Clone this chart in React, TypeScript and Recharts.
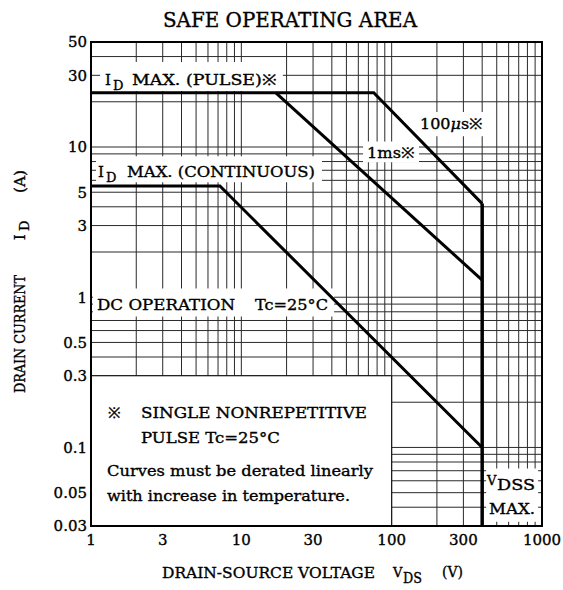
import React from "react";
import { ComposedChart, Line, CartesianGrid, XAxis, YAxis, ReferenceArea } from "recharts";

// log grid positions and labelled ticks
const xGrid = [1, 2, 3, 4, 5, 6, 7, 8, 9, 10, 20, 30, 40, 50, 60, 70, 80, 90, 100, 200, 300, 400, 500, 600, 700, 800, 900, 1000];
const xLabels = [1, 3, 10, 30, 100, 300, 1000];
const yGrid = [0.03, 0.04, 0.05, 0.06, 0.07, 0.08, 0.09, 0.1, 0.2, 0.3, 0.4, 0.5, 0.6, 0.7, 0.8, 0.9, 1, 2, 3, 4, 5, 6, 7, 8, 9, 10, 20, 30, 40, 50];
const yLabels = [0.03, 0.05, 0.1, 0.3, 0.5, 1, 3, 5, 10, 30, 50];

// curves: drain-source voltage (V) / drain current (A)
const pulseV = [1, 76, 400];
const pulseI = [23, 23, 4.2];
const ms1V = [16.9, 400];
const ms1I = [23, 1.3];
const dcV = [1, 7.2, 400];
const dcI = [5.5, 5.5, 0.1];
const vdssV = [400, 400];
const vdssI = [4.2, 0.03];

const toRows = (v: number[], i: number[]) => v.map((x, k) => ({ v: x, i: i[k] }));

const FONT = "'DejaVu Serif', serif";

const tickStyle = { fill: "#000", stroke: "#000", strokeWidth: 0.35, fontSize: 15, fontFamily: FONT };

export default function App() {
  return (
    <div style={{ position: "absolute", left: 0, top: 0, width: 563, height: 590, background: "#fff" }}>
      <ComposedChart width={563} height={590} margin={{ top: 42, right: 21, bottom: 34, left: 31 }}>
        <CartesianGrid stroke="#2a2a2a" strokeWidth={1} />
        <XAxis
          dataKey="v"
          type="number"
          scale="log"
          domain={[1, 1000]}
          allowDataOverflow
          ticks={xGrid}
          interval={0}
          height={30}
          tickSize={0}
          tickMargin={8}
          axisLine={false}
          tickLine={false}
          tick={tickStyle}
          tickFormatter={(t: number) => (xLabels.includes(t) ? String(t) : "")}
        />
        <YAxis
          type="number"
          scale="log"
          domain={[0.03, 50]}
          allowDataOverflow
          ticks={yGrid}
          interval={0}
          width={60}
          tickSize={0}
          tickMargin={4}
          axisLine={false}
          tickLine={false}
          tick={tickStyle}
          tickFormatter={(t: number) => (yLabels.includes(t) ? String(t) : "")}
        />
        {/* white label backgrounds */}
        <ReferenceArea x1={1.15} x2={18.9} y1={23.6} y2={36.8} fill="#fff" fillOpacity={1} stroke="none" />
        <ReferenceArea x1={1.08} x2={34.4} y1={5.83} y2={8.69} fill="#fff" fillOpacity={1} stroke="none" />
        <ReferenceArea x1={64.5} x2={152} y1={7.92} y2={10.9} fill="#fff" fillOpacity={1} stroke="none" />
        <ReferenceArea x1={143} x2={438} y1={11.8} y2={17.1} fill="#fff" fillOpacity={1} stroke="none" />
        <ReferenceArea x1={1.03} x2={41.4} y1={0.745} y2={1.145} fill="#fff" fillOpacity={1} stroke="none" />
        <ReferenceArea x1={1} x2={100} y1={0.03} y2={0.3} fill="#fff" fillOpacity={1} stroke="#000" strokeWidth={1} />
        <ReferenceArea x1={425} x2={942} y1={0.032} y2={0.0723} fill="#fff" fillOpacity={1} stroke="none" />
        {/* plot frame */}
        <ReferenceArea x1={1} x2={1000} y1={0.03} y2={50} fill="none" fillOpacity={0} stroke="#000" strokeWidth={2} />
        <Line data={toRows(pulseV, pulseI)} dataKey="i" type="linear" stroke="#000" strokeWidth={3} dot={false} isAnimationActive={false} />
        <Line data={toRows(ms1V, ms1I)} dataKey="i" type="linear" stroke="#000" strokeWidth={3} dot={false} isAnimationActive={false} />
        <Line data={toRows(dcV, dcI)} dataKey="i" type="linear" stroke="#000" strokeWidth={3} dot={false} isAnimationActive={false} />
        <Line data={toRows(vdssV, vdssI)} dataKey="i" type="linear" stroke="#000" strokeWidth={3.5} dot={false} isAnimationActive={false} />
      </ComposedChart>

      <svg width={563} height={590} style={{ position: "absolute", left: 0, top: 0, pointerEvents: "none" }} fontFamily={FONT} fill="#000" stroke="#000" strokeWidth={0.35}>
        <text x={290} y={27} textAnchor="middle" fontSize={21} textLength={254} lengthAdjust="spacingAndGlyphs">SAFE OPERATING AREA</text>

        <text x={105} y={85} fontSize={15}>I</text>
        <text x={113} y={90} fontSize={13}>D</text>
        <text x={132} y={85} fontSize={15} textLength={145} lengthAdjust="spacingAndGlyphs">MAX. (PULSE)※</text>

        <text x={98} y={177} fontSize={15}>I</text>
        <text x={106} y={182} fontSize={13}>D</text>
        <text x={127} y={177} fontSize={15} textLength={188} lengthAdjust="spacingAndGlyphs">MAX. (CONTINUOUS)</text>

        <text x={367} y={158} fontSize={15} textLength={48} lengthAdjust="spacingAndGlyphs">1ms※</text>
        <text x={420} y={129} fontSize={15} textLength={63} lengthAdjust="spacingAndGlyphs">
          100<tspan fontStyle="italic">μ</tspan>s※
        </text>

        <text x={97} y={310} fontSize={15} textLength={138} lengthAdjust="spacingAndGlyphs">DC OPERATION</text>
        <text x={255} y={310} fontSize={15} textLength={73} lengthAdjust="spacingAndGlyphs">Tc=25°C</text>

        <text x={108} y={418} fontSize={15}>※</text>
        <text x={141} y={418} fontSize={15} textLength={226} lengthAdjust="spacingAndGlyphs">SINGLE NONREPETITIVE</text>
        <text x={141} y={443} fontSize={15} textLength={139} lengthAdjust="spacingAndGlyphs">PULSE Tc=25°C</text>
        <text x={107} y={476} fontSize={15} textLength={266} lengthAdjust="spacingAndGlyphs">Curves must be derated linearly</text>
        <text x={107} y={501} fontSize={15} textLength={243} lengthAdjust="spacingAndGlyphs">with increase in temperature.</text>

        <text x={487} y={485} fontSize={13}>V</text>
        <text x={497} y={490} fontSize={15} textLength={38} lengthAdjust="spacingAndGlyphs">DSS</text>
        <text x={489} y={514} fontSize={15} textLength={46} lengthAdjust="spacingAndGlyphs">MAX.</text>

        <g transform="translate(25,393) rotate(-90)">
          <text x={0} y={0} fontSize={14} textLength={118} lengthAdjust="spacingAndGlyphs">DRAIN CURRENT</text>
          <text x={153} y={0} fontSize={14}>I</text>
          <text x={162} y={4} fontSize={13}>D</text>
          <text x={200} y={0} fontSize={14} textLength={23} lengthAdjust="spacingAndGlyphs">(A)</text>
        </g>

        <text x={162} y={578} fontSize={15} textLength={213} lengthAdjust="spacingAndGlyphs">DRAIN-SOURCE VOLTAGE</text>
        <text x={393} y={577} fontSize={13}>V</text>
        <text x={403} y={583} fontSize={15} textLength={19} lengthAdjust="spacingAndGlyphs">DS</text>
        <text x={442} y={577} fontSize={15} textLength={21} lengthAdjust="spacingAndGlyphs">(V)</text>
      </svg>
    </div>
  );
}
